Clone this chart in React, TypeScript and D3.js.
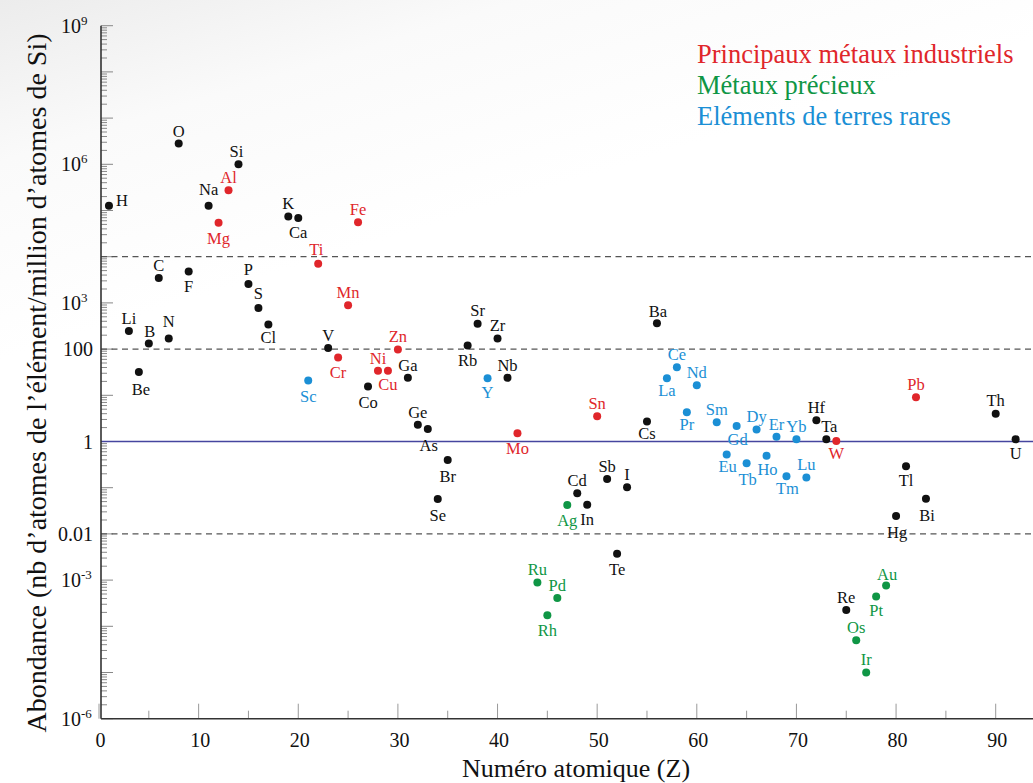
import React, { useEffect } from "react";
import * as d3 from "d3";

// ---------- DATA ----------
const symbols = ["H","Li","Be","B","C","N","O","F","Na","Mg","Al","Si","P","S","Cl","K","Ca","Sc","Ti","V","Cr","Mn","Fe","Co","Ni","Cu","Zn","Ga","Ge","As","Se","Br","Rb","Sr","Y","Zr","Nb","Mo","Ru","Rh","Pd","Ag","Cd","In","Sn","Sb","Te","I","Cs","Ba","La","Ce","Pr","Nd","Sm","Eu","Gd","Tb","Dy","Ho","Er","Tm","Yb","Lu","Hf","Ta","W","Re","Os","Ir","Pt","Au","Hg","Tl","Pb","Bi","Th","U"];
const atomicNumbers = [1,3,4,5,6,7,8,9,11,12,13,14,15,16,17,19,20,21,22,23,24,25,26,27,28,29,30,31,32,33,34,35,37,38,39,40,41,42,44,45,46,47,48,49,50,51,52,53,55,56,57,58,59,60,62,63,64,65,66,67,68,69,70,71,72,73,74,75,76,77,78,79,80,81,82,83,90,92];
const abundances = [1.26e5,245,32,133,3470,170,2.82e6,4790,1.26e5,5.4e4,2.75e5,1.0e6,2570,776,339,7.4e4,6.9e4,21,7080,105,66,891,5.6e4,15.5,34,34,98,24,2.3,1.86,0.057,0.40,120,355,23.4,170,24,1.5,8.9e-4,1.74e-4,4.1e-4,0.042,0.076,0.043,3.5,0.155,3.7e-3,0.102,2.7,363,23.4,40.7,4.3,16.6,2.6,0.52,2.16,0.34,1.82,0.49,1.26,0.178,1.12,0.166,2.9,1.12,1.02,2.24e-4,5.0e-5,1.0e-5,4.4e-4,7.6e-4,0.0245,0.29,9.1,0.0575,4.0,1.12];
const industrialMetals = ["Mg","Al","Ti","Cr","Mn","Fe","Ni","Cu","Zn","Mo","Sn","W","Pb"];
const preciousMetals = ["Ru","Rh","Pd","Ag","Os","Ir","Pt","Au"];
const rareEarths = ["Sc","Y","La","Ce","Pr","Nd","Sm","Eu","Gd","Tb","Dy","Ho","Er","Tm","Yb","Lu"];
const legendLabels = ["Principaux métaux industriels","Métaux précieux","Eléments de terres rares"];
const xTicks = [0,10,20,30,40,50,60,70,80,90];
const yTickValues = [1e9,1e6,1e3,100,1,0.01,1e-3,1e-6];
const yTickLabels: [string, string][] = [["10","9"],["10","6"],["10","3"],["100",""],["1",""],["0.01",""],["10","-3"],["10","-6"]];
const dashedLevels = [1e4,100,0.01];
const refLevel = 1;

// ---------- LAYOUT / STYLE ----------
const W = 1033, H = 783;
const LEFT = 101, TOP = 25.7, BOTTOM = 718.7;
const COLORS = { base: "#111", industrial: "#e0262b", precious: "#0f9645", rare: "#1b8fd5" };
const FONT = "Liberation Serif";
// label offsets [dx, dy] (label centre relative to dot); default above
const labelOffset: Record<string, [number, number]> = {
  H: [13, -6], Be: [2, 17], Mg: [0, 15], Ca: [0, 14], F: [0, 15], Cl: [0, 13],
  Cr: [0, 15], Cu: [0, 13], Co: [0, 16], Sc: [0, 16], Rb: [0, 15], Y: [0, 14],
  As: [1, 16], Mo: [0, 15], Br: [0, 16], Se: [0, 16], In: [0, 15], Ag: [0, 15],
  Te: [0, 15], Cs: [0, 12], La: [0, 12], Pr: [0, 12], Gd: [1, 13], W: [0, 12],
  Eu: [1, 12], Tb: [1, 16], Ho: [1, 13], Tm: [1, 12], Rh: [0, 15], Pt: [0, 14],
  U: [0, 14], Tl: [0, 14], Bi: [1, 16], Hg: [1, 16], Na: [0, -17], N: [0, -17],
  Ta: [3, -13], Si: [-2, -13], Ti: [-2, -14], P: [0, -15], S: [0, -15], O: [0, -12],
  Au: [1, -11], B: [1, -12], Ba: [1, -12],
};

function colorOf(s: string) {
  if (industrialMetals.includes(s)) return COLORS.industrial;
  if (preciousMetals.includes(s)) return COLORS.precious;
  if (rareEarths.includes(s)) return COLORS.rare;
  return COLORS.base;
}

const T = (props: any) => <text fontFamily={FONT} {...props} />;

export default function App() {
  useEffect(() => {
    document.body.style.margin = "0";
  }, []);

  const x = d3.scaleLinear().domain([0, 90]).range([99, 995.7]);
  const y = d3.scaleLog().domain([1e-6, 1e9]).range([BOTTOM, TOP]);

  const points = symbols.map((s, i) => ({ s, z: atomicNumbers[i], v: abundances[i] }));

  const minorTicks: { v: number; major: boolean }[] = [];
  for (let e = -6; e < 9; e++) {
    for (let m = 1; m <= 9; m++) minorTicks.push({ v: m * Math.pow(10, e), major: m === 1 });
  }
  minorTicks.push({ v: 1e9, major: true });

  const xMinor = d3.range(0, 95, 5);

  return (
    <svg width={W} height={H} style={{ display: "block" }} fontFamily={FONT}>
      <defs>
        <linearGradient id="bg" x1="0" y1="0" x2="0.45" y2="0.55">
          <stop offset="0" stopColor="#ececec" />
          <stop offset="0.45" stopColor="#fafafa" />
          <stop offset="1" stopColor="#ffffff" />
        </linearGradient>
      </defs>
      <rect x={0} y={0} width={W} height={H} fill="#fff" />
      <rect x={0} y={0} width={W} height={H * 0.5} fill="url(#bg)" />

      {minorTicks.map((t, i) => (
        <line key={"yt" + i} x1={LEFT} x2={LEFT + (t.major ? 12 : 6)} y1={y(t.v)} y2={y(t.v)} stroke="#888" strokeWidth={1} />
      ))}
      {xMinor.map((v) => (
        <line key={"xt" + v} x1={x(v)} x2={x(v)} y1={BOTTOM} y2={BOTTOM - (v % 10 === 0 ? 15 : 8)} stroke="#999" strokeWidth={1} />
      ))}

      {dashedLevels.map((v) => (
        <line key={"d" + v} x1={LEFT} x2={W} y1={y(v)} y2={y(v)} stroke="#555" strokeWidth={1.3} strokeDasharray="6,4.5" />
      ))}
      <line x1={LEFT} x2={W} y1={y(refLevel)} y2={y(refLevel)} stroke="#45459f" strokeWidth={1.3} />

      <line x1={LEFT} x2={LEFT} y1={TOP} y2={BOTTOM} stroke="#333" strokeWidth={1.6} />
      <line x1={LEFT} x2={W} y1={BOTTOM} y2={BOTTOM} stroke="#333" strokeWidth={1.6} />

      {yTickValues.map((v, i) => {
        const [base, exp] = yTickLabels[i];
        return (
          <T key={"yl" + v} x={exp ? 81 : 93} y={y(v) + 7} fontSize={20} textAnchor="end" fill="#111">
            {base}
            {exp ? (
              <tspan fontSize={13} dy={-8} x={81} textAnchor="start">{exp}</tspan>
            ) : null}
          </T>
        );
      })}

      {xTicks.map((v) => (
        <T key={"xl" + v} x={x(v) + 1.5} y={747} fontSize={20} textAnchor="middle" fill="#111">{v}</T>
      ))}

      <T x={576} y={777} fontSize={26} textAnchor="middle" fill="#111">Numéro atomique (Z)</T>
      <T transform={`translate(46,383) rotate(-90)`} fontSize={28} textAnchor="middle" fill="#111">
        Abondance (nb d’atomes de l’élément/million d’atomes de Si)
      </T>

      {points.map((p) => (
        <circle key={"p" + p.s} cx={x(p.z)} cy={y(p.v)} r={4} fill={colorOf(p.s)} />
      ))}
      {points.map((p) => {
        const [dx, dy] = labelOffset[p.s] || [0, -13];
        return (
          <T key={"l" + p.s} x={x(p.z) + dx} y={y(p.v) + dy} dy="0.35em" fontSize={16.5} textAnchor="middle" fill={colorOf(p.s)}>{p.s}</T>
        );
      })}

      {legendLabels.map((l, i) => (
        <T key={l} x={697} y={63 + i * 31} fontSize={26.5} fill={[COLORS.industrial, COLORS.precious, COLORS.rare][i]}>{l}</T>
      ))}
    </svg>
  );
}
